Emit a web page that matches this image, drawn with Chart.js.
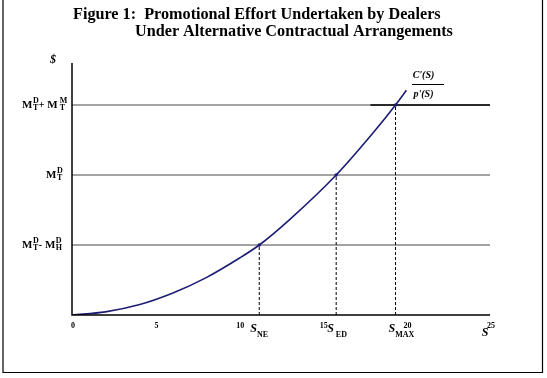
<!DOCTYPE html>
<html>
<head>
<meta charset="utf-8">
<script src="https://cdn.jsdelivr.net/npm/chart.js@4.4.0/dist/chart.umd.min.js"></script>
<style>
  body { margin: 0; background: #fff; }
  #chart { display: block; }
</style>
</head>
<body>
<canvas id="chart" width="547" height="378"></canvas>
<script>
// values (x = S, y = $)
const xTicks = [0, 5, 10, 15, 20, 25];
const effort = [0, 2, 4, 6, 8, 10, 11.2, 13, 15.8, 18, 19.35, 20];
const cost = [0, 0.45, 1.45, 3.1, 5.3, 8.1, 10, 13.6, 20, 26, 30, 32.1];
const levels = [10, 20, 30];
const crossings = [11.2, 15.8, 19.35];
const crossingNames = ['NE', 'ED', 'MAX'];
// each level label is a list of M terms [sup, sub] joined by an operator
const levelTerms = [[['D', 'T'], ['D', 'H']], [['D', 'T']], [['D', 'T'], ['M', 'T']]];
const levelOps = ['-', '', '+'];

const SERIF = '"Liberation Serif", "Times New Roman", serif';
const NAVY = '#1c1c74';
const GRAY = '#858585';

function seg(data, color, width, order, dash) {
  return {
    data: data,
    borderColor: color,
    borderWidth: width,
    borderDash: dash || [],
    order: order,
    pointRadius: 0,
    fill: false
  };
}

const datasets = [];
levels.forEach(function (l) {
  datasets.push(seg([{ x: 0, y: l }, { x: 25, y: l }], GRAY, 1.5, 5));
});
// right part of the top line is black in the original
datasets.push(seg([{ x: 17.85, y: levels[2] }, { x: 25, y: levels[2] }], '#000', 1.3, 4));
crossings.forEach(function (c, i) {
  datasets.push(seg([{ x: c, y: 0 }, { x: c, y: levels[i] }], '#000', 1, 3, [3, 2]));
});
datasets.push({
  data: effort.map(function (x, i) { return { x: x, y: cost[i] }; }),
  borderColor: NAVY,
  borderWidth: 1.6,
  cubicInterpolationMode: 'monotone',
  order: 1,
  pointRadius: 0,
  fill: false
});
datasets.push({
  data: crossings.map(function (c, i) { return { x: c, y: levels[i] }; }),
  showLine: false,
  order: 0,
  pointRadius: 1.7,
  pointBackgroundColor: NAVY,
  pointBorderWidth: 0
});

function drawTerm(ctx, x, y, sup, sub, gap) {
  ctx.font = 'bold 11px ' + SERIF;
  ctx.fillText('M', x, y);
  const w = ctx.measureText('M').width;
  ctx.font = 'bold 8px ' + SERIF;
  ctx.fillText(sup, x + w + gap, y - 4);
  ctx.fillText(sub, x + w + gap, y + 3);
  return x + w + gap + Math.max(ctx.measureText(sup).width, ctx.measureText(sub).width);
}

const figurePlugin = {
  id: 'figure',
  afterDatasetsDraw: function (chart) {
    const ctx = chart.ctx;
    const xs = chart.scales.x;
    const ys = chart.scales.y;
    const x0 = xs.getPixelForValue(0), y0 = ys.getPixelForValue(0);
    ctx.save();
    ctx.strokeStyle = '#000';
    ctx.lineWidth = 1.5;
    ctx.beginPath();
    ctx.moveTo(x0, ys.getPixelForValue(36));
    ctx.lineTo(x0, y0);
    ctx.lineTo(xs.getPixelForValue(25), y0);
    ctx.stroke();

    // outer frame
    ctx.lineWidth = 1.2;
    ctx.beginPath();
    ctx.moveTo(3, 0);
    ctx.lineTo(3, 372.5);
    ctx.lineTo(542.5, 372.5);
    ctx.lineTo(542.5, 0);
    ctx.stroke();

    ctx.fillStyle = '#000';
    ctx.textBaseline = 'middle';

    // title
    ctx.font = 'bold 16.2px ' + SERIF;
    ctx.textAlign = 'left';
    ctx.fillText('Figure 1:  Promotional Effort Undertaken by Dealers', 73, 15);
    ctx.fillText('Under Alternative Contractual Arrangements', 135, 32);

    // x tick labels
    ctx.font = 'bold 8px ' + SERIF;
    ctx.textAlign = 'center';
    xTicks.forEach(function (t) {
      ctx.fillText(String(t), xs.getPixelForValue(t) + 1, y0 + 11);
    });

    // S subscripts under the crossings
    crossings.forEach(function (c, i) {
      const px = xs.getPixelForValue(c);
      ctx.textAlign = 'left';
      ctx.font = 'bold italic 12px ' + SERIF;
      const sx = i === 2 ? px - 7 : px - 9;
      ctx.fillText('S', sx, y0 + 14);
      const sw = ctx.measureText('S').width;
      ctx.font = 'bold 8px ' + SERIF;
      ctx.fillText(crossingNames[i], sx + sw + (i === 1 ? 2 : 0), y0 + 20);
    });
    ctx.font = 'bold italic 12px ' + SERIF;
    ctx.textAlign = 'center';
    ctx.fillText('S', xs.getPixelForValue(25) - 5, y0 + 18);

    // y axis title
    ctx.font = 'bold italic 12px ' + SERIF;
    ctx.fillText('$', 53, 60);

    // level labels
    ctx.textAlign = 'left';
    const starts = [22, 46, 22];
    levels.forEach(function (l, i) {
      const py = ys.getPixelForValue(l);
      let x = starts[i];
      levelTerms[i].forEach(function (term, k) {
        if (k > 0) {
          ctx.font = 'bold 10px ' + SERIF;
          ctx.fillText(levelOps[i], x, py);
          x += ctx.measureText(levelOps[i]).width + 3;
        }
        x = drawTerm(ctx, x, py, term[0], term[1], k > 0 && levelOps[i] === '+' ? 2 : 0.5);
      });
    });

    // curve label C'(S) / p'(S)
    ctx.font = 'bold italic 10px ' + SERIF;
    ctx.textAlign = 'center';
    ctx.fillText("C'(S)", 423.5, 75);
    ctx.fillText("p'(S)", 423.5, 94);
    ctx.lineWidth = 1;
    ctx.beginPath();
    ctx.moveTo(412, 84.5);
    ctx.lineTo(444, 84.5);
    ctx.stroke();
    ctx.restore();
  }
};

new Chart(document.getElementById('chart'), {
  type: 'line',
  data: { datasets: datasets },
  options: {
    responsive: false,
    animation: false,
    layout: { padding: { left: 72, right: 57, top: 63, bottom: 63 } },
    plugins: { legend: { display: false }, tooltip: { enabled: false } },
    scales: {
      x: { type: 'linear', min: 0, max: 25, display: false },
      y: { min: 0, max: 36, display: false }
    }
  },
  plugins: [figurePlugin]
});
</script>
</body>
</html>
